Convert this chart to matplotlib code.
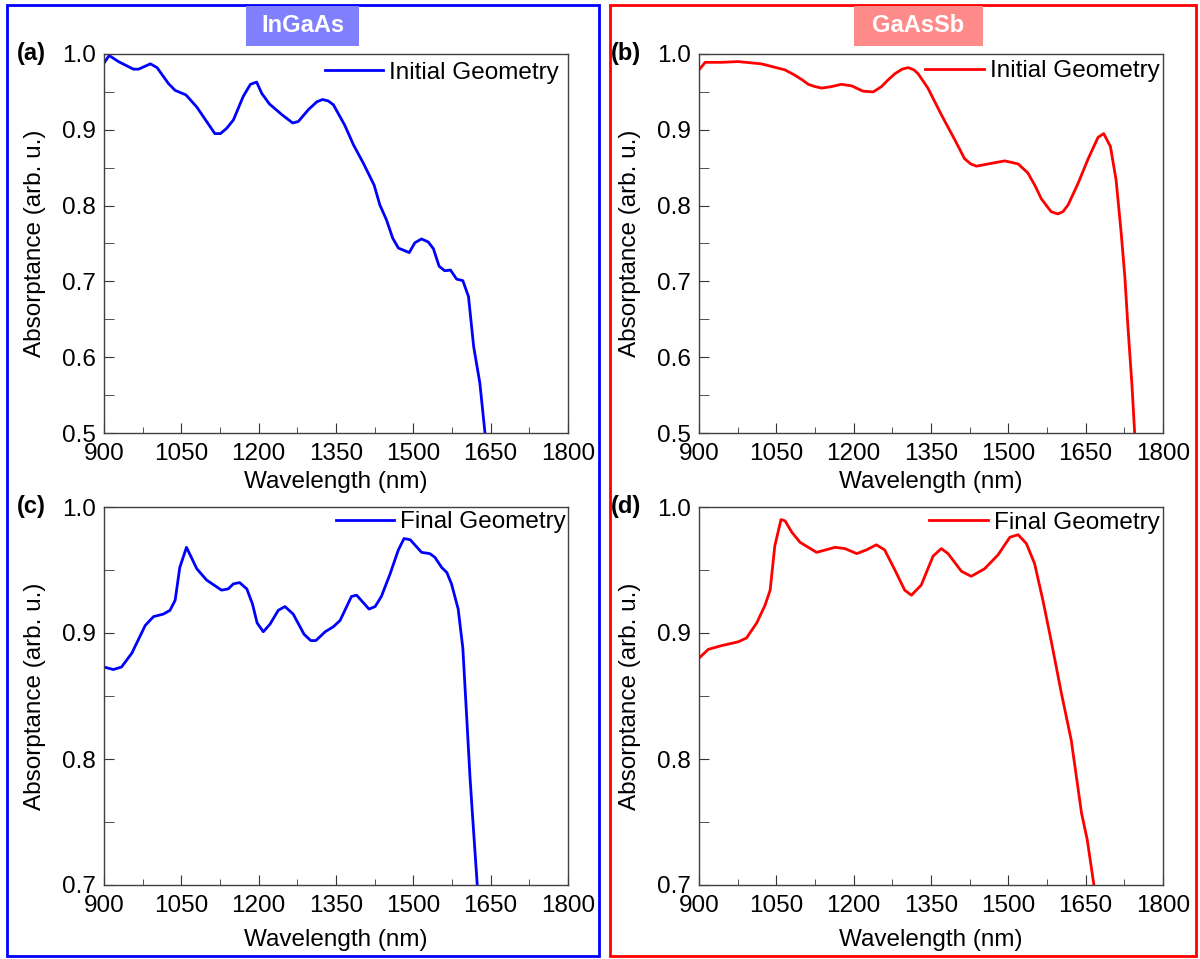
import matplotlib
matplotlib.use("Agg")
from matplotlib import pyplot as plt
from matplotlib.patches import Rectangle
from matplotlib.ticker import MultipleLocator

plt.rcParams['font.family'] = ['Liberation Sans', 'DejaVu Sans']
plt.rcParams['font.size'] = 17.5

# (a) InGaAs, initial geometry
wl_a = [900, 910, 928, 957, 967, 990, 1003, 1025, 1038, 1059, 1080, 1099, 1115, 1126,
        1138, 1151, 1170, 1184, 1196, 1206, 1221, 1245, 1266, 1277, 1297, 1313, 1324,
        1335, 1345, 1367, 1384, 1403, 1424, 1435, 1448, 1460, 1471, 1492, 1503, 1516,
        1529, 1539, 1550, 1561, 1572, 1584, 1596, 1607, 1617, 1629, 1639]
abs_a = [0.988, 0.998, 0.990, 0.980, 0.980, 0.987, 0.982, 0.961, 0.952, 0.946, 0.930,
         0.911, 0.895, 0.895, 0.902, 0.913, 0.944, 0.960, 0.963, 0.948, 0.934, 0.920,
         0.909, 0.911, 0.927, 0.937, 0.940, 0.938, 0.933, 0.906, 0.880, 0.856, 0.827,
         0.801, 0.781, 0.757, 0.744, 0.738, 0.751, 0.756, 0.752, 0.743, 0.720, 0.714,
         0.715, 0.703, 0.701, 0.680, 0.614, 0.566, 0.500]

# (b) GaAsSb, initial geometry
wl_b = [900, 912, 944, 976, 1021, 1067, 1086, 1100, 1112, 1125, 1138, 1157, 1176, 1196,
        1218, 1238, 1254, 1267, 1280, 1294, 1306, 1317, 1325, 1344, 1370, 1396, 1415,
        1427, 1438, 1461, 1493, 1519, 1538, 1552, 1564, 1583, 1596, 1606, 1616, 1635,
        1655, 1674, 1685, 1698, 1709, 1719, 1726, 1732, 1740, 1745]
abs_b = [0.979, 0.989, 0.989, 0.990, 0.987, 0.979, 0.972, 0.966, 0.960, 0.957, 0.955,
         0.957, 0.960, 0.958, 0.951, 0.950, 0.957, 0.966, 0.974, 0.980, 0.982, 0.979,
         0.974, 0.955, 0.920, 0.887, 0.862, 0.855, 0.852, 0.855, 0.859, 0.855, 0.843,
         0.826, 0.809, 0.792, 0.789, 0.792, 0.801, 0.829, 0.862, 0.890, 0.895, 0.878,
         0.834, 0.763, 0.706, 0.640, 0.561, 0.500]

# (c) InGaAs, final geometry
wl_c = [900, 918, 934, 954, 980, 996, 1015, 1028, 1038, 1047, 1060, 1080, 1099, 1128,
        1141, 1151, 1163, 1177, 1188, 1197, 1209, 1222, 1238, 1251, 1267, 1288, 1301,
        1311, 1329, 1345, 1358, 1380, 1390, 1414, 1426, 1438, 1455, 1471, 1482, 1494,
        1516, 1532, 1542, 1555, 1565, 1574, 1587, 1596, 1603, 1610, 1616, 1624]
abs_c = [0.873, 0.871, 0.873, 0.884, 0.906, 0.913, 0.915, 0.918, 0.926, 0.952, 0.968,
         0.951, 0.942, 0.934, 0.935, 0.939, 0.940, 0.935, 0.923, 0.908, 0.901, 0.907,
         0.918, 0.921, 0.915, 0.899, 0.894, 0.894, 0.901, 0.905, 0.910, 0.929, 0.930,
         0.919, 0.921, 0.929, 0.947, 0.966, 0.975, 0.974, 0.964, 0.963, 0.960, 0.952,
         0.948, 0.939, 0.919, 0.888, 0.837, 0.785, 0.748, 0.700]

# (d) GaAsSb, final geometry
wl_d = [900, 918, 944, 976, 992, 1012, 1028, 1038, 1047, 1059, 1067, 1080, 1096, 1128,
        1164, 1183, 1206, 1225, 1244, 1260, 1280, 1299, 1312, 1331, 1354, 1370, 1383,
        1409, 1428, 1454, 1480, 1503, 1519, 1535, 1551, 1567, 1583, 1603, 1622, 1642,
        1653, 1666]
abs_d = [0.880, 0.887, 0.890, 0.893, 0.896, 0.908, 0.922, 0.934, 0.969, 0.990, 0.989,
         0.980, 0.972, 0.964, 0.968, 0.967, 0.963, 0.966, 0.970, 0.966, 0.950, 0.934,
         0.930, 0.938, 0.961, 0.967, 0.963, 0.949, 0.945, 0.951, 0.962, 0.976, 0.978,
         0.971, 0.955, 0.926, 0.894, 0.852, 0.815, 0.757, 0.736, 0.700]

W, H = 1200, 959
fig = plt.figure(figsize=(12, 9.59), dpi=100)


def px(x0, y0, x1, y1):
    # pixel box (top-left origin) -> figure fraction rect
    return [x0 / W, (H - y1) / H, (x1 - x0) / W, (y1 - y0) / H]


# outer frames
fig.add_artist(Rectangle((7 / W, 3 / H), 592 / W, 951 / H, transform=fig.transFigure,
                         fill=False, ec='#0000FF', lw=2))
fig.add_artist(Rectangle((609.5 / W, 3 / H), 586 / W, 951 / H, transform=fig.transFigure,
                         fill=False, ec='#FF0000', lw=2))

# material headers
for x0, x1, txt, col in [(246, 359, 'InGaAs', '#8080FF'), (854, 983, 'GaAsSb', '#FF8A8A')]:
    r = px(x0, 6, x1, 46)
    fig.add_artist(Rectangle((r[0], r[1]), r[2], r[3], transform=fig.transFigure,
                             fc=col, ec='none'))
    fig.text((x0 + x1) / 2 / W, (H - 26) / H, txt, color='white', weight='bold',
             ha='center', va='center', fontsize=17)

panels = [
    ('(a)', wl_a, abs_a, '#0000FF', 'Initial Geometry', px(104, 54, 568, 433), 0.5, 0.9806, 0.950, -0.129),
    ('(b)', wl_b, abs_b, '#FF0000', 'Initial Geometry', px(699, 54, 1163, 433), 0.5, 0.9927, 0.955, -0.129),
    ('(c)', wl_c, abs_c, '#0000FF', 'Final Geometry', px(104, 507, 568, 885), 0.7, 0.9957, 0.960, -0.1455),
    ('(d)', wl_d, abs_d, '#FF0000', 'Final Geometry', px(699, 507, 1163, 885), 0.7, 0.9927, 0.958, -0.1455),
]

for tag, x, y, col, lab, rect, ymin, lx, ly, xl_y in panels:
    ax = fig.add_axes(rect)
    ax.plot(x, y, color=col, lw=2, label=lab)
    ax.set_xlim(900, 1800)
    ax.set_ylim(ymin, 1.0)
    ax.xaxis.set_major_locator(MultipleLocator(150))
    ax.xaxis.set_minor_locator(MultipleLocator(75))
    ax.yaxis.set_major_locator(MultipleLocator(0.1))
    ax.yaxis.set_minor_locator(MultipleLocator(0.05))
    ax.yaxis.set_major_formatter(plt.FormatStrFormatter('%.1f'))
    ax.tick_params(direction='in', which='both', color='#333333', labelsize=17.5)
    ax.tick_params(axis='x', which='major', length=7, pad=7.5)
    ax.tick_params(axis='x', which='minor', length=4)
    ax.tick_params(axis='y', which='both', length=7, pad=6)
    for s in ax.spines.values():
        s.set_color('#404040')
        s.set_linewidth(1.0)
    ax.set_xlabel('Wavelength (nm)')
    ax.xaxis.set_label_coords(0.5, xl_y)
    ax.xaxis.label.set_va('center')
    ax.set_ylabel('Absorptance (arb. u.)')
    ax.yaxis.set_label_coords(-0.148, 0.5)
    ax.yaxis.label.set_va('center')
    ax.legend(loc='center right', bbox_to_anchor=(lx, ly), frameon=False, borderpad=0,
              borderaxespad=0, handlelength=2.4, handletextpad=0.25)
    fig.text((rect[0] * W - 73) / W, rect[1] + rect[3], tag, weight='bold',
             ha='center', va='center', fontsize=17)

fig.savefig('out.png', dpi=100)
